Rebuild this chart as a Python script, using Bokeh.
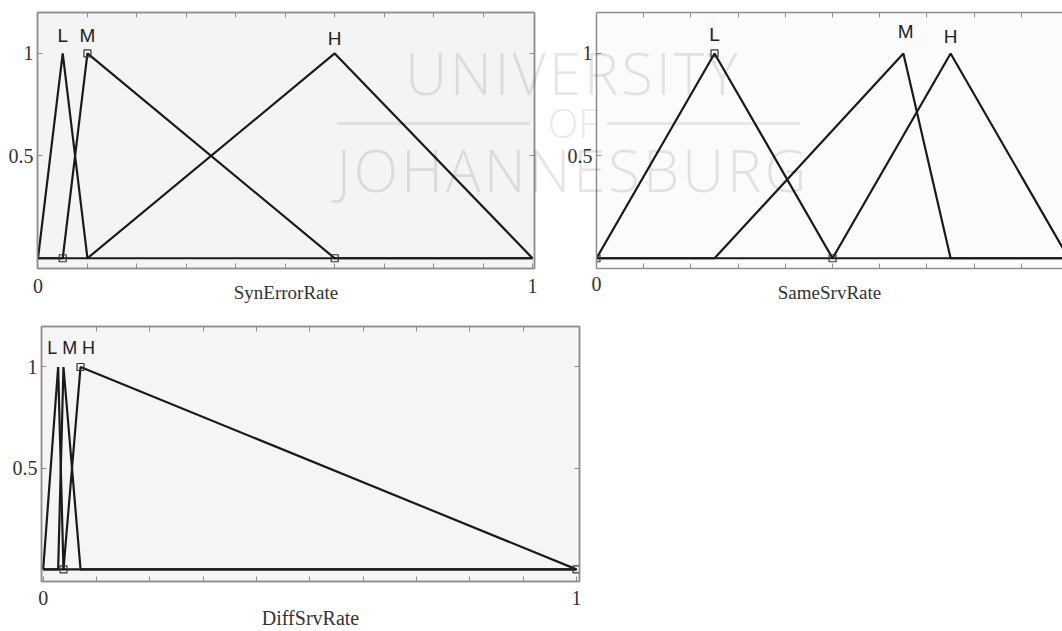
from bokeh.plotting import figure
from bokeh.models import Range1d, LinearAxis, FixedTicker, NumeralTickFormatter, Div
from bokeh.layouts import column, row
from bokeh.core.properties import value
from bokeh.embed import file_html
from bokeh.resources import INLINE

# ---------------- data ----------------
terms = ["L", "M", "H"]

syn_L = [0.0, 0.05, 0.10]
syn_M = [0.05, 0.10, 0.60]
syn_H = [0.10, 0.60, 1.00]
syn_selected = "M"

same_L = [0.0, 0.25, 0.50]
same_M = [0.25, 0.65, 0.75]
same_H = [0.50, 0.75, 1.00]
same_selected = "L"

diff_L = [0.0, 0.028, 0.038]
diff_M = [0.028, 0.038, 0.07]
diff_H = [0.038, 0.07, 1.00]
diff_selected = "H"

x_ticks = [0, 1]
x_minor_ticks = [0.1, 0.2, 0.3, 0.4, 0.5, 0.6, 0.7, 0.8, 0.9]
y_ticks = [0.5, 1]

titles = ["SynErrorRate", "SameSrvRate", "DiffSrvRate"]

LINE = "#1a1a1a"
FRAME = "#8e8e8e"
TXT = "#333333"


def trimf(x, abc):
    a, b, c = abc
    if x < a or x > c:
        return 0.0
    if x <= b:
        return (x - a) / (b - a) if b > a else 1.0
    return (c - x) / (c - b) if c > b else 1.0


def make_panel(mfs, selected, xr, yr, width, height, mb, bg, label_x, label_y,
               label_size, title, title_size, title_standoff, tick_standoff,
               outline=True, right_axis=True):
    p = figure(width=width, height=height, x_range=Range1d(*xr), y_range=Range1d(*yr),
               output_backend="svg", toolbar_location=None)
    p.min_border_left, p.min_border_right, p.min_border_top, p.min_border_bottom = mb
    p.background_fill_color = bg
    p.border_fill_color = "white"
    p.outline_line_color = FRAME if outline else None
    p.outline_line_width = 1.5
    p.xgrid.visible = False
    p.ygrid.visible = False

    # bottom axis
    xa = p.xaxis[0]
    xa.ticker = FixedTicker(ticks=x_ticks, minor_ticks=x_minor_ticks)
    xa.formatter = NumeralTickFormatter(format="0.[0]")
    xa.major_tick_in, xa.major_tick_out = 5, 0
    xa.minor_tick_in, xa.minor_tick_out = 5, 0
    xa.axis_line_color = FRAME
    xa.axis_line_width = 1.5
    xa.major_tick_line_color = FRAME
    xa.minor_tick_line_color = FRAME
    xa.major_label_standoff = tick_standoff
    xa.major_label_text_font = "Liberation Serif"
    xa.major_label_text_font_size = "20px"
    xa.major_label_text_color = TXT
    xa.axis_label = title
    xa.axis_label_standoff = title_standoff
    xa.axis_label_text_font = "Liberation Serif"
    xa.axis_label_text_font_size = title_size
    xa.axis_label_text_font_style = "normal"
    xa.axis_label_text_color = TXT

    # left axis
    ya = p.yaxis[0]
    ya.ticker = FixedTicker(ticks=y_ticks, minor_ticks=[])
    ya.formatter = NumeralTickFormatter(format="0.[0]")
    ya.major_tick_in, ya.major_tick_out = 5, 0
    ya.minor_tick_in, ya.minor_tick_out = 0, 0
    ya.axis_line_color = FRAME
    ya.axis_line_width = 1.5
    ya.major_tick_line_color = FRAME
    ya.major_label_standoff = 4
    ya.major_label_text_font = "Liberation Serif"
    ya.major_label_text_font_size = "20px"
    ya.major_label_text_color = TXT

    # top axis (ticks only)
    ta = LinearAxis(ticker=FixedTicker(ticks=[], minor_ticks=x_minor_ticks))
    ta.major_tick_in, ta.major_tick_out = 0, 0
    ta.minor_tick_in, ta.minor_tick_out = 5, 0
    ta.axis_line_color = FRAME
    ta.axis_line_width = 1.5
    ta.minor_tick_line_color = FRAME
    ta.major_label_standoff = 0
    p.add_layout(ta, "above")

    if right_axis:
        ra = LinearAxis(ticker=FixedTicker(ticks=[], minor_ticks=y_ticks))
        ra.major_tick_in, ra.major_tick_out = 0, 0
        ra.minor_tick_in, ra.minor_tick_out = 5, 0
        ra.axis_line_color = FRAME
        ra.axis_line_width = 1.5
        ra.minor_tick_line_color = FRAME
        ra.major_label_standoff = 0
        p.add_layout(ra, "right")

    # membership functions
    for name, abc in zip(terms, mfs):
        xs = sorted(set([0.0, abc[0], abc[1], abc[2], 1.0]))
        ys = [trimf(x, abc) for x in xs]
        p.line(xs, ys, line_color=LINE, line_width=2.2)

    sel = mfs[terms.index(selected)]
    p.scatter(list(sel), [trimf(x, sel) for x in sel], marker="square", size=7,
              fill_color=None, line_color="#333333", line_width=1.2)

    p.text(x=label_x, y=label_y, text=terms, text_font=value("Liberation Sans"),
           text_font_size=value(label_size), text_align="center",
           text_baseline="alphabetic", text_color="#222222")
    return p


# geometry of the panels
P1 = dict(xr=(-0.001, 1.004), yr=(-0.05, 1.2), width=555, height=312, mb=(37, 21, 12, 44))
P2 = dict(xr=(0.0, 0.987), yr=(-0.05, 1.2), width=507, height=312, mb=(41, 0, 12, 44))
P3 = dict(xr=(-0.0032, 1.0056), yr=(-0.06, 1.2), width=600, height=319, mb=(41, 21, 14, 48))

p1 = make_panel([syn_L, syn_M, syn_H], syn_selected, bg="#f4f4f4",
                label_x=[syn_L[1], syn_M[1], syn_H[1]], label_y=[1.09, 1.09, 1.075],
                label_size="19px", title=titles[0], title_size="19px",
                title_standoff=-14, tick_standoff=10, **P1)
p2 = make_panel([same_L, same_M, same_H], same_selected, bg="#fbfbfb",
                label_x=[same_L[1], same_M[1] + 0.005, same_H[1]], label_y=[1.095, 1.105, 1.085],
                label_size="19px", title=titles[1], title_size="19px",
                title_standoff=-12, tick_standoff=8, outline=False, right_axis=False, **P2)
p3 = make_panel([diff_L, diff_M, diff_H], diff_selected, bg="#f5f5f5",
                label_x=[0.017, 0.05, 0.085], label_y=[1.095, 1.095, 1.095],
                label_size="18px", title=titles[2], title_size="20px",
                title_standoff=-1, tick_standoff=9, **P3)

# ---------------- faint watermark of the source scan (one text block) ----------------
wm_html = (
    '<div style="position:relative;width:1062px;height:210px;pointer-events:none;">'
    '<div style="position:absolute;left:568px;top:44px;transform:translateX(-50%);'
    'white-space:nowrap;text-align:center;font-family:\'Open Sans\';font-weight:300;'
    'font-size:58px;line-height:48.5px;letter-spacing:3px;color:rgba(0,0,0,0.10);">'
    'UNIVERSITY<br>'
    '<span style="font-size:40px;line-height:0;vertical-align:6.5px;letter-spacing:0;">OF</span><br>'
    'JOHANNESBURG'
    '</div>'
    '<div style="position:absolute;left:332px;top:117px;width:193px;height:3px;background:rgba(0,0,0,0.08);"></div>'
    '<div style="position:absolute;left:602px;top:117px;width:193px;height:3px;background:rgba(0,0,0,0.08);"></div>'
    '</div>'
)
watermark = Div(text=wm_html, width=1062, height=210,
                styles={"position": "absolute", "left": "0px", "top": "0px",
                        "pointer-events": "none", "z-index": "5"})

layout = column(row(p1, p2), p3, watermark)
open("out.html", "w").write(file_html(layout, INLINE))
